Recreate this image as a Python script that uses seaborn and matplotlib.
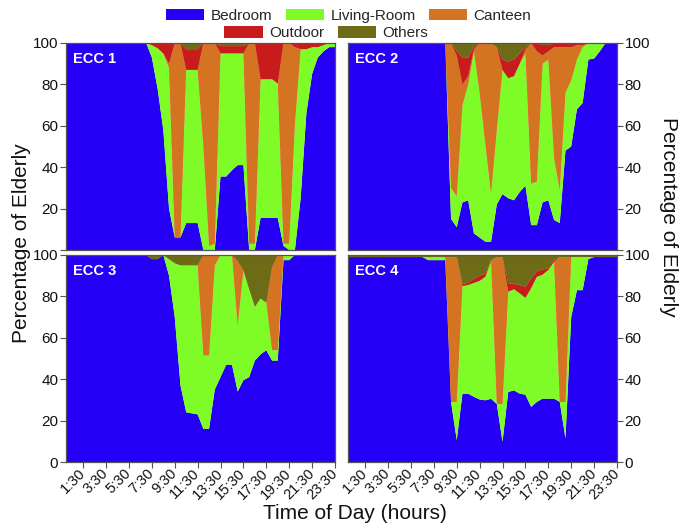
import numpy as np
import pandas as pd
import matplotlib
matplotlib.use("Agg")
import matplotlib.pyplot as plt
from matplotlib.patches import Patch
import seaborn as sns
import seaborn.objects as so

sns.set_theme(style="ticks")
plt.rcParams["font.family"] = ["Liberation Sans", "DejaVu Sans"]

# Half-hour time slots over the day (hours from midnight)
slots = np.arange(0, 24, 0.5)
tick_hours = [1.5, 3.5, 5.5, 7.5, 9.5, 11.5, 13.5, 15.5, 17.5, 19.5, 21.5, 23.5]
tick_labels = ["1:30", "3:30", "5:30", "7:30", "9:30", "11:30", "13:30",
               "15:30", "17:30", "19:30", "21:30", "23:30"]

locations = ["Bedroom", "Living-Room", "Canteen", "Outdoor", "Others"]
colors = ["#2600F6", "#7FFC28", "#D47321", "#C81C1C", "#6E6B17"]
panels = ["ECC 1", "ECC 2", "ECC 3", "ECC 4"]

# Percentage of elderly in each location, per half-hour slot
ecc1_bedroom = [100, 100, 100, 100, 100, 100, 100, 100, 100, 100, 100, 100, 100, 100, 100, 93,
                78, 58, 20, 6, 6, 13, 13, 13, 0, 0, 0, 35.5, 35.5, 38.5, 41, 41,
                0, 0, 15.5, 15.5, 15.5, 15.5, 2, 0, 0, 25, 66, 85, 93, 96, 98, 98]
ecc1_living = [0, 0, 0, 0, 0, 0, 0, 0, 0, 0, 0, 0, 0, 0, 0, 6,
               19.5, 37, 68, 0, 0, 74, 74, 74, 50, 2, 3, 59.5, 59.5, 56.5, 54, 54,
               3, 3, 67, 67, 67, 65, 1, 3, 61, 72, 31, 13, 5, 3, 2, 2]
ecc1_canteen = [0, 0, 0, 0, 0, 0, 0, 0, 0, 0, 0, 0, 0, 0, 0, 0,
                0, 0, 2, 94, 94, 0, 0, 0, 50, 98, 97, 0, 0, 0, 0, 0,
                97, 97, 0, 0, 0, 0, 97, 97, 37, 0, 0, 0, 0, 0, 0, 0]
ecc1_outdoor = [0, 0, 0, 0, 0, 0, 0, 0, 0, 0, 0, 0, 0, 0, 0, 1,
                2.5, 5, 10, 0, 0, 10, 10, 10, 0, 0, 0, 3.5, 3.5, 3.5, 3.5, 3.5,
                0, 0, 17.5, 17.5, 17.5, 19.5, 0, 0, 2, 3, 3, 2, 2, 1, 0, 0]
ecc1_others = [0, 0, 0, 0, 0, 0, 0, 0, 0, 0, 0, 0, 0, 0, 0, 0,
               0, 0, 0, 0, 0, 3, 3, 3, 0, 0, 0, 1.5, 1.5, 1.5, 1.5, 1.5,
               0, 0, 0, 0, 0, 0, 0, 0, 0, 0, 0, 0, 0, 0, 0, 0]

ecc2_bedroom = [100, 100, 100, 100, 100, 100, 100, 100, 100, 100, 100, 100, 100, 100, 100, 100,
                100, 100, 15, 11, 23, 24, 8, 6, 4, 4, 22, 27, 25, 24, 28, 31,
                12, 12, 23, 24, 14.5, 13, 48, 50, 68, 71, 92, 92.5, 96, 100, 100, 100]
ecc2_living = [0, 0, 0, 0, 0, 0, 0, 0, 0, 0, 0, 0, 0, 0, 0, 0,
               0, 0, 15, 15, 47, 56, 88, 70, 47, 23, 36, 60, 58, 60, 62, 64,
               20, 21, 67, 68, 30, 16, 28, 32, 24, 27, 8, 7.5, 4, 0, 0, 0]
ecc2_canteen = [0, 0, 0, 0, 0, 0, 0, 0, 0, 0, 0, 0, 0, 0, 0, 0,
                0, 0, 70, 68, 10, 4, 1, 24, 49, 73, 40, 0, 0, 0, 0, 2,
                68, 63, 4, 4, 53.5, 69, 22, 16, 7, 1, 0, 0, 0, 0, 0, 0]
ecc2_outdoor = [0, 0, 0, 0, 0, 0, 0, 0, 0, 0, 0, 0, 0, 0, 0, 0,
                0, 0, 0, 2, 13, 9, 1, 0, 0, 0, 0, 5, 8, 8, 5, 1,
                0, 4, 5, 3, 2, 2, 2, 2, 1, 1, 0, 0, 0, 0, 0, 0]
ecc2_others = [0, 0, 0, 0, 0, 0, 0, 0, 0, 0, 0, 0, 0, 0, 0, 0,
               0, 0, 0, 4, 7, 7, 2, 0, 0, 0, 2, 8, 9, 8, 5, 2,
               0, 0, 1, 1, 0, 0, 0, 0, 0, 0, 0, 0, 0, 0, 0, 0]

ecc3_bedroom = [100, 100, 100, 100, 100, 100, 100, 100, 100, 100, 100, 100, 100, 100, 100, 98,
                98, 100, 90, 70, 37, 24, 23.5, 23, 16, 16, 35, 41, 47, 47, 34, 39.5,
                41, 49, 52, 54, 49, 49, 97.5, 97.5, 100, 100, 100, 100, 100, 100, 100, 100]
ecc3_living = [0, 0, 0, 0, 0, 0, 0, 0, 0, 0, 0, 0, 0, 0, 0, 0,
               0, 0, 8, 26, 58, 71, 71.5, 72, 35.5, 35.5, 60, 59, 53, 53, 32, 53,
               42.5, 26, 27, 23, 5, 5, 2.5, 2.5, 0, 0, 0, 0, 0, 0, 0, 0]
ecc3_canteen = [0, 0, 0, 0, 0, 0, 0, 0, 0, 0, 0, 0, 0, 0, 0, 0,
                0, 0, 0, 0, 0, 0, 0, 0, 48.5, 48.5, 5, 0, 0, 0, 31, 0,
                0, 0, 0, 0, 40, 46, 0, 0, 0, 0, 0, 0, 0, 0, 0, 0]
ecc3_outdoor = [0, 0, 0, 0, 0, 0, 0, 0, 0, 0, 0, 0, 0, 0, 0, 0,
                0, 0, 0, 0, 0, 0, 0, 0, 0, 0, 0, 0, 0, 0, 0, 0,
                0, 0, 0, 0, 0, 0, 0, 0, 0, 0, 0, 0, 0, 0, 0, 0]
ecc3_others = [0, 0, 0, 0, 0, 0, 0, 0, 0, 0, 0, 0, 0, 0, 0, 2,
               2, 0, 2, 4, 5, 5, 5, 5, 0, 0, 0, 0, 0, 0, 3, 7.5,
               16.5, 25, 21, 23, 6, 0, 0, 0, 0, 0, 0, 0, 0, 0, 0, 0]

ecc4_bedroom = [99, 99, 99, 99, 99, 99, 99, 99, 99, 99, 99, 99, 99, 99, 97.5, 97.5,
                97.5, 97.5, 29, 10.5, 33, 33, 31.5, 30.2, 29.8, 30.5, 28, 9.7, 33.8, 34.6, 33, 32.5,
                26.6, 29, 30.6, 30.6, 30.6, 29, 11.3, 70, 83, 83, 98, 99, 99, 99, 99, 99]
ecc4_living = [0, 0, 0, 0, 0, 0, 0, 0, 0, 0, 0, 0, 0, 0, 1.5, 1.5,
               1.5, 1.5, 0, 18.5, 52, 52.5, 55, 57.3, 59.7, 66, 0, 18.3, 48.5, 48.9, 48.5, 46.8,
               57.4, 60.5, 59.9, 62.2, 66.2, 0, 17.7, 29, 16, 16, 1, 0, 0, 0, 0, 0]
ecc4_canteen = [0, 0, 0, 0, 0, 0, 0, 0, 0, 0, 0, 0, 0, 0, 0, 0,
                0, 0, 70, 70, 0, 0, 0, 0, 0, 1, 71, 71, 0, 0, 0, 0,
                0, 0, 0, 0, 0, 70, 70, 0, 0, 0, 0, 0, 0, 0, 0, 0]
ecc4_outdoor = [0, 0, 0, 0, 0, 0, 0, 0, 0, 0, 0, 0, 0, 0, 0, 0,
                0, 0, 0, 0, 1, 1, 2, 2.5, 1.5, 0, 0, 0, 4, 2.5, 4, 5.2,
                4.7, 2.5, 2.5, 0.8, 0.8, 0, 0, 0, 0, 0, 0, 0, 0, 0, 0, 0]
ecc4_others = [1, 1, 1, 1, 1, 1, 1, 1, 1, 1, 1, 1, 1, 1, 1, 1,
               1, 1, 1, 1, 14, 13.5, 11.5, 10, 9, 2.5, 1, 1, 13.7, 14, 14.5, 15.5,
               11.3, 8, 7, 6.4, 2.4, 1, 1, 1, 1, 1, 1, 1, 1, 1, 1, 1]

series = {
    "ECC 1": [ecc1_bedroom, ecc1_living, ecc1_canteen, ecc1_outdoor, ecc1_others],
    "ECC 2": [ecc2_bedroom, ecc2_living, ecc2_canteen, ecc2_outdoor, ecc2_others],
    "ECC 3": [ecc3_bedroom, ecc3_living, ecc3_canteen, ecc3_outdoor, ecc3_others],
    "ECC 4": [ecc4_bedroom, ecc4_living, ecc4_canteen, ecc4_outdoor, ecc4_others],
}
palette = dict(zip(locations, colors))

fig = plt.figure(figsize=(6.88, 5.27), dpi=100)
W, H = 269 / 688, 207 / 527
lefts = [66 / 688, 348 / 688]
bottoms = [1 - 250 / 527, 1 - 462 / 527]
spine_col = "#555555"

for k, name in enumerate(panels):
    row, col = divmod(k, 2)
    ax = fig.add_axes([lefts[col], bottoms[row], W, H])

    # Long-form table, ordered bottom layer first so the stack follows it
    frame = pd.concat(
        [pd.DataFrame({"hour": slots, "share": vals, "location": loc})
         for loc, vals in zip(locations, series[name])],
        ignore_index=True,
    )
    (
        so.Plot(frame, x="hour", y="share", color="location")
        .add(so.Area(alpha=1, edgewidth=0.4), so.Stack(), legend=False)
        .scale(color=so.Nominal(palette, order=locations))
        .theme(sns.axes_style("ticks"))
        .on(ax)
        .plot()
    )

    ax.set_xlim(0, 23.5)
    ax.set_ylim(0, 100)
    ax.set_xlabel("")
    ax.set_ylabel("")
    for sp in ax.spines.values():
        sp.set_visible(True)
        sp.set_color(spine_col)
        sp.set_linewidth(0.9)
        sp.set_zorder(5)

    yt = [0, 20, 40, 60, 80, 100]
    ax.set_yticks(yt)
    ylabels = ["" if (row == 0 and v == 0) else str(v) for v in yt]
    ax.set_yticklabels(ylabels)
    if col == 1:
        ax.yaxis.tick_right()
    ax.tick_params(axis="y", length=4, width=0.8, color=spine_col,
                   labelsize=11, labelcolor="#111111", pad=1.5, direction="out")

    if row == 1:
        ax.set_xticks(tick_hours)
        ax.set_xticklabels(tick_labels, rotation=45, ha="right",
                           rotation_mode="anchor", va="center")
        ax.tick_params(axis="x", length=4, width=0.8, color=spine_col,
                       labelsize=10.5, labelcolor="#111111", pad=2.5,
                       direction="out")
    else:
        ax.set_xticks([])
        ax.tick_params(axis="x", bottom=False, labelbottom=False)

    ax.text(0.025, 0.955, name, transform=ax.transAxes, color="white",
            fontweight="bold", fontsize=10.5, ha="left", va="top", zorder=6)

handles = [Patch(facecolor=c, edgecolor="none", label=l)
           for l, c in zip(locations, colors)]
legend_kw = dict(loc="center", frameon=False, fontsize=11, handlelength=2.5,
                 handleheight=0.8, handletextpad=0.4, columnspacing=0.9,
                 borderpad=0, borderaxespad=0)
fig.legend(handles=handles[:3], bbox_to_anchor=(0.507, 0.970), ncol=3, **legend_kw)
fig.legend(handles=handles[3:], bbox_to_anchor=(0.474, 0.937), ncol=2, **legend_kw)

fig.text(0.031, 0.539, "Percentage of Elderly", rotation=90, ha="center",
         va="center", fontsize=15, color="#111111")
fig.text(0.971, 0.588, "Percentage of Elderly", rotation=270, ha="center",
         va="center", fontsize=15, color="#111111")
fig.text(0.516, 0.026, "Time of Day (hours)", ha="center", va="center",
         fontsize=15, color="#111111")

fig.savefig("out.png", dpi=100)
